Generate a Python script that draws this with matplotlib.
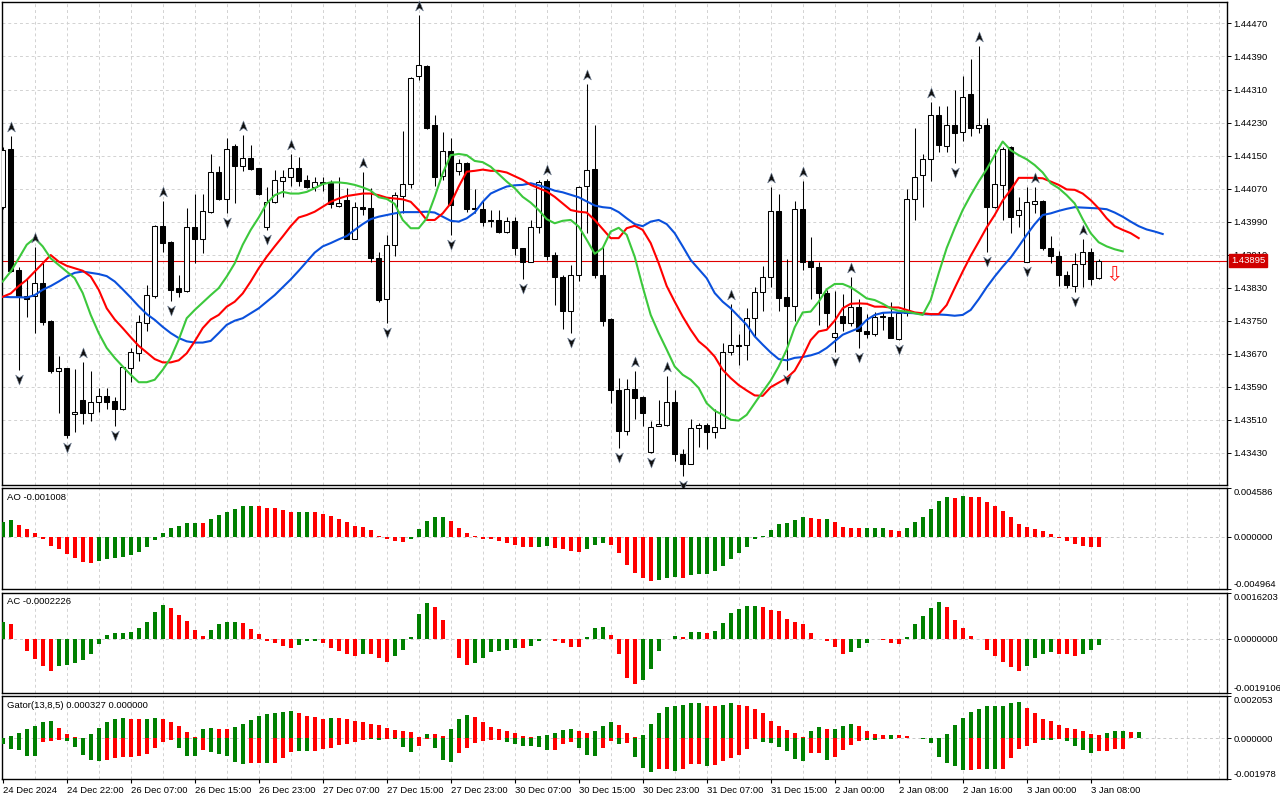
import numpy as np
import matplotlib
matplotlib.use("Agg")
import matplotlib.pyplot as plt
from matplotlib.path import Path
from matplotlib.transforms import offset_copy

# ---------- DATA (H1 candles, 24 Dec 2024 - 3 Jan 2025) ----------
time_labels = ['24 Dec 2024', '24 Dec 22:00', '26 Dec 07:00', '26 Dec 15:00', '26 Dec 23:00',
               '27 Dec 07:00', '27 Dec 15:00', '27 Dec 23:00', '30 Dec 07:00', '30 Dec 15:00',
               '30 Dec 23:00', '31 Dec 07:00', '31 Dec 15:00', '2 Jan 00:00', '2 Jan 08:00',
               '2 Jan 16:00', '3 Jan 00:00', '3 Jan 08:00']

opens = [1.44026, 1.44166, 1.43873, 1.43810, 1.43810, 1.43841, 1.43749, 1.43628, 1.43635, 1.43523,
         1.43558, 1.43526, 1.43554, 1.43568, 1.43556, 1.43535, 1.43636, 1.43671, 1.43745, 1.43811,
         1.43979, 1.43941, 1.43828, 1.43822, 1.43976, 1.43947, 1.44014, 1.44109, 1.44044, 1.44173,
         1.44125, 1.44143, 1.44119, 1.43976, 1.44038, 1.44089, 1.44097, 1.44121, 1.44091, 1.44073,
         1.44087, 1.44083, 1.44029, 1.44042, 1.43949, 1.44025, 1.44022, 1.43903, 1.43802, 1.43933,
         1.44052, 1.44081, 1.44342, 1.44367, 1.44224, 1.44101, 1.44161, 1.44112, 1.44133, 1.44022,
         1.44020, 1.43994, 1.43994, 1.43966, 1.43992, 1.43925, 1.43893, 1.43976, 1.44088, 1.43909,
         1.43857, 1.43774, 1.43861, 1.44076, 1.44117, 1.43861, 1.43753, 1.43582, 1.43484, 1.43584,
         1.43565, 1.43431, 1.43494, 1.43498, 1.43552, 1.43427, 1.43403, 1.43490, 1.43498, 1.43480,
         1.43490, 1.43675, 1.43690, 1.43690, 1.43756, 1.43819, 1.43855, 1.44016, 1.43808, 1.43786,
         1.44020, 1.43895, 1.43881, 1.43818, 1.43711, 1.43761, 1.43745, 1.43782, 1.43725, 1.43717,
         1.43761, 1.43760, 1.43705, 1.43768, 1.44044, 1.44103, 1.44141, 1.44248, 1.44174, 1.44224,
         1.44206, 1.44298, 1.44217, 1.44225, 1.44025, 1.44078, 1.44171, 1.44006, 1.43893, 1.44032,
         1.44040, 1.43925, 1.43907, 1.43861, 1.43834, 1.43887, 1.43917, 1.43853]

highs = [1.44170, 1.44197, 1.43881, 1.43853, 1.43929, 1.43889, 1.43752, 1.43665, 1.43636, 1.43632,
         1.43651, 1.43627, 1.43588, 1.43586, 1.43564, 1.43640, 1.43683, 1.43764, 1.43837, 1.43982,
         1.44041, 1.43943, 1.43860, 1.44022, 1.44057, 1.44057, 1.44154, 1.44125, 1.44192, 1.44178,
         1.44200, 1.44175, 1.44121, 1.44073, 1.44115, 1.44115, 1.44154, 1.44146, 1.44103, 1.44099,
         1.44099, 1.44091, 1.44099, 1.44071, 1.44038, 1.44111, 1.44071, 1.43917, 1.43958, 1.44062,
         1.44210, 1.44341, 1.44490, 1.44369, 1.44248, 1.44208, 1.44192, 1.44141, 1.44135, 1.44068,
         1.44042, 1.44017, 1.44018, 1.44000, 1.44002, 1.43927, 1.43995, 1.44091, 1.44093, 1.43917,
         1.43861, 1.43885, 1.44076, 1.44323, 1.44224, 1.43931, 1.43756, 1.43611, 1.43608, 1.43629,
         1.43567, 1.43506, 1.43558, 1.43615, 1.43582, 1.43439, 1.43511, 1.43503, 1.43502, 1.43535,
         1.43695, 1.43791, 1.43717, 1.43780, 1.43831, 1.43883, 1.44073, 1.44057, 1.43899, 1.44040,
         1.44089, 1.43952, 1.43891, 1.43824, 1.43823, 1.43815, 1.43857, 1.43802, 1.43766, 1.43772,
         1.43772, 1.43796, 1.43768, 1.44068, 1.44216, 1.44155, 1.44280, 1.44270, 1.44270, 1.44310,
         1.44342, 1.44383, 1.44415, 1.44240, 1.44167, 1.44171, 1.44173, 1.44049, 1.44073, 1.44075,
         1.44042, 1.43955, 1.43920, 1.43871, 1.43913, 1.43947, 1.43925, 1.43899]

lows = [1.44020, 1.43869, 1.43631, 1.43760, 1.43720, 1.43740, 1.43624, 1.43527, 1.43465, 1.43481,
        1.43500, 1.43508, 1.43530, 1.43535, 1.43494, 1.43534, 1.43602, 1.43652, 1.43726, 1.43806,
        1.43917, 1.43798, 1.43808, 1.43820, 1.43889, 1.43913, 1.44012, 1.44042, 1.44010, 1.44034,
        1.44113, 1.44115, 1.44054, 1.43970, 1.44036, 1.44050, 1.44076, 1.44076, 1.44071, 1.44065,
        1.44065, 1.44022, 1.44026, 1.43947, 1.43947, 1.44006, 1.43891, 1.43796, 1.43744, 1.43907,
        1.44010, 1.44071, 1.44334, 1.44214, 1.44076, 1.44091, 1.43958, 1.44103, 1.44014, 1.44010,
        1.43979, 1.43978, 1.43963, 1.43963, 1.43909, 1.43850, 1.43891, 1.43962, 1.43897, 1.43788,
        1.43729, 1.43721, 1.43847, 1.43962, 1.43853, 1.43737, 1.43550, 1.43441, 1.43473, 1.43511,
        1.43495, 1.43429, 1.43494, 1.43495, 1.43411, 1.43374, 1.43403, 1.43445, 1.43439, 1.43465,
        1.43490, 1.43667, 1.43643, 1.43655, 1.43710, 1.43774, 1.43831, 1.43774, 1.43631, 1.43750,
        1.43874, 1.43802, 1.43740, 1.43732, 1.43675, 1.43724, 1.43737, 1.43683, 1.43707, 1.43713,
        1.43728, 1.43707, 1.43703, 1.43762, 1.43995, 1.44026, 1.44089, 1.44159, 1.44159, 1.44133,
        1.44186, 1.44197, 1.44204, 1.43917, 1.44022, 1.43995, 1.43962, 1.43978, 1.43893, 1.44010,
        1.43921, 1.43889, 1.43834, 1.43828, 1.43820, 1.43832, 1.43837, 1.43851]

closes = [1.44163, 1.43871, 1.43808, 1.43802, 1.43841, 1.43748, 1.43627, 1.43635, 1.43473, 1.43528,
          1.43526, 1.43552, 1.43568, 1.43554, 1.43535, 1.43639, 1.43673, 1.43748, 1.43812, 1.43979,
          1.43939, 1.43824, 1.43820, 1.43976, 1.43947, 1.44016, 1.44109, 1.44044, 1.44167, 1.44125,
          1.44143, 1.44117, 1.44057, 1.44037, 1.44091, 1.44097, 1.44121, 1.44089, 1.44073, 1.44087,
          1.44084, 1.44033, 1.44036, 1.43949, 1.44025, 1.44021, 1.43903, 1.43800, 1.43933, 1.44054,
          1.44081, 1.44339, 1.44369, 1.44216, 1.44099, 1.44161, 1.44030, 1.44133, 1.44020, 1.44020,
          1.43990, 1.43992, 1.43966, 1.43992, 1.43925, 1.43891, 1.43976, 1.44087, 1.43907, 1.43855,
          1.43774, 1.43861, 1.44073, 1.44115, 1.43861, 1.43750, 1.43581, 1.43484, 1.43584, 1.43562,
          1.43527, 1.43492, 1.43499, 1.43552, 1.43427, 1.43403, 1.43490, 1.43498, 1.43480, 1.43492,
          1.43675, 1.43690, 1.43689, 1.43756, 1.43819, 1.43855, 1.44016, 1.43806, 1.43786, 1.44020,
          1.43893, 1.43881, 1.43816, 1.43768, 1.43720, 1.43745, 1.43782, 1.43724, 1.43717, 1.43760,
          1.43760, 1.43707, 1.43768, 1.44044, 1.44099, 1.44141, 1.44248, 1.44175, 1.44224, 1.44205,
          1.44291, 1.44217, 1.44225, 1.44025, 1.44081, 1.44167, 1.44002, 1.44017, 1.44037, 1.44040,
          1.43925, 1.43907, 1.43861, 1.43837, 1.43887, 1.43917, 1.43850, 1.43895]

# Alligator lines as drawn (already shifted: jaw +8, teeth +5, lips +3 bars)
jaw = [1.43808, 1.43807, 1.43807, 1.43806, 1.43812, 1.43825, 1.43834, 1.43845, 1.43857, 1.43866,
       1.43869, 1.43866, 1.43863, 1.43858, 1.43845, 1.43826, 1.43806, 1.43785, 1.43766, 1.43752,
       1.43735, 1.43720, 1.43708, 1.43700, 1.43697, 1.43697, 1.43701, 1.43720, 1.43740, 1.43750,
       1.43756, 1.43768, 1.43780, 1.43796, 1.43812, 1.43831, 1.43850, 1.43871, 1.43893, 1.43915,
       1.43930, 1.43938, 1.43947, 1.43955, 1.43970, 1.43984, 1.43996, 1.44002, 1.44006, 1.44010,
       1.44013, 1.44013, 1.44013, 1.44014, 1.44012, 1.44002, 1.43992, 1.43990, 1.43998, 1.44012,
       1.44038, 1.44058, 1.44067, 1.44075, 1.44078, 1.44079, 1.44083, 1.44078, 1.44072, 1.44065,
       1.44061, 1.44055, 1.44049, 1.44039, 1.44029, 1.44025, 1.44023, 1.44013, 1.43998, 1.43984,
       1.43979, 1.43990, 1.43994, 1.43984, 1.43962, 1.43930, 1.43897, 1.43875, 1.43853, 1.43817,
       1.43796, 1.43780, 1.43760, 1.43740, 1.43712, 1.43692, 1.43673, 1.43657, 1.43654, 1.43660,
       1.43662, 1.43666, 1.43672, 1.43684, 1.43700, 1.43716, 1.43724, 1.43732, 1.43752, 1.43764,
       1.43769, 1.43770, 1.43770, 1.43769, 1.43768, 1.43766, 1.43765, 1.43765, 1.43764, 1.43762,
       1.43764, 1.43776, 1.43802, 1.43831, 1.43857, 1.43881, 1.43903, 1.43930, 1.43958, 1.43984,
       1.44006, 1.44010, 1.44016, 1.44021, 1.44025, 1.44024, 1.44023, 1.44022, 1.44020, 1.44012,
       1.44002, 1.43990, 1.43979, 1.43971, 1.43966, 1.43960]

teeth = [1.43808, 1.43816, 1.43834, 1.43849, 1.43869, 1.43889, 1.43909, 1.43893, 1.43883, 1.43877,
         1.43871, 1.43857, 1.43825, 1.43780, 1.43753, 1.43732, 1.43710, 1.43689, 1.43673, 1.43657,
         1.43649, 1.43649, 1.43654, 1.43671, 1.43700, 1.43732, 1.43753, 1.43764, 1.43784, 1.43796,
         1.43816, 1.43845, 1.43877, 1.43905, 1.43930, 1.43954, 1.43979, 1.44000, 1.44006, 1.44014,
         1.44026, 1.44038, 1.44046, 1.44052, 1.44055, 1.44058, 1.44058, 1.44054, 1.44048, 1.44046,
         1.44044, 1.44038, 1.44018, 1.43994, 1.43994, 1.44010, 1.44034, 1.44075, 1.44111, 1.44113,
         1.44116, 1.44113, 1.44113, 1.44109, 1.44100, 1.44091, 1.44079, 1.44071, 1.44063, 1.44050,
         1.44034, 1.44018, 1.44014, 1.44012, 1.43994, 1.43972, 1.43950, 1.43950, 1.43974, 1.43980,
         1.43970, 1.43938, 1.43889, 1.43834, 1.43796, 1.43760, 1.43728, 1.43700, 1.43684, 1.43663,
         1.43631, 1.43611, 1.43594, 1.43581, 1.43569, 1.43568, 1.43589, 1.43600, 1.43611, 1.43629,
         1.43663, 1.43703, 1.43724, 1.43728, 1.43750, 1.43780, 1.43791, 1.43792, 1.43791, 1.43784,
         1.43784, 1.43782, 1.43782, 1.43776, 1.43770, 1.43768, 1.43766, 1.43766, 1.43788, 1.43829,
         1.43869, 1.43907, 1.43941, 1.43976, 1.44006, 1.44041, 1.44067, 1.44096, 1.44096, 1.44096,
         1.44095, 1.44087, 1.44079, 1.44068, 1.44067, 1.44058, 1.44042, 1.44022, 1.43998, 1.43979,
         1.43970, 1.43962, 1.43950]

lips = [1.43845, 1.43869, 1.43901, 1.43934, 1.43950, 1.43930, 1.43901, 1.43885, 1.43869, 1.43853,
        1.43817, 1.43764, 1.43720, 1.43684, 1.43660, 1.43639, 1.43619, 1.43601, 1.43601, 1.43607,
        1.43631, 1.43660, 1.43704, 1.43756, 1.43776, 1.43794, 1.43812, 1.43829, 1.43857, 1.43889,
        1.43934, 1.43970, 1.44000, 1.44034, 1.44054, 1.44062, 1.44058, 1.44058, 1.44062, 1.44071,
        1.44081, 1.44085, 1.44085, 1.44083, 1.44079, 1.44073, 1.44065, 1.44049, 1.44045, 1.44033,
        1.43994, 1.43974, 1.43974, 1.43998, 1.44050, 1.44107, 1.44151, 1.44154, 1.44151, 1.44137,
        1.44134, 1.44123, 1.44105, 1.44087, 1.44071, 1.44050, 1.44036, 1.44018, 1.43996, 1.43986,
        1.43992, 1.43994, 1.43978, 1.43946, 1.43912, 1.43926, 1.43966, 1.43975, 1.43958, 1.43905,
        1.43832, 1.43764, 1.43720, 1.43680, 1.43639, 1.43619, 1.43607, 1.43587, 1.43550, 1.43532,
        1.43522, 1.43510, 1.43508, 1.43522, 1.43550, 1.43578, 1.43605, 1.43639, 1.43680, 1.43734,
        1.43770, 1.43772, 1.43796, 1.43826, 1.43839, 1.43839, 1.43831, 1.43818, 1.43804, 1.43800,
        1.43791, 1.43780, 1.43774, 1.43772, 1.43768, 1.43764, 1.43800, 1.43865, 1.43926, 1.43974,
        1.44018, 1.44054, 1.44087, 1.44117, 1.44151, 1.44184, 1.44163, 1.44151, 1.44141, 1.44127,
        1.44109, 1.44083, 1.44071, 1.44054, 1.44034, 1.43996, 1.43962, 1.43940, 1.43930, 1.43923,
        1.43918]

fractal_up = [1, 4, 10, 20, 30, 36, 45, 52, 68, 73, 79, 83, 91, 96, 100, 106, 116, 122, 129, 135]
fractal_dn = [2, 8, 14, 21, 28, 33, 48, 56, 65, 71, 77, 81, 85, 98, 104, 107, 112, 119, 123, 128, 134]

price_ticks = [1.43430, 1.43510, 1.43590, 1.43670, 1.43750, 1.43830, 1.43910,
               1.43990, 1.44070, 1.44150, 1.44230, 1.44310, 1.44390, 1.44470]

ao = [0.00135, 0.00153, 0.00106, 0.00069, 0.00031, -0.00022, -0.00091, -0.00116, -0.00166, -0.00203,
      -0.00241, -0.00250, -0.00228, -0.00210, -0.00200, -0.00191, -0.00175, -0.00147, -0.00100, -0.00031,
      0.00031, 0.00078, 0.00097, 0.00125, 0.00126, 0.00124, 0.00163, 0.00200, 0.00232, 0.00257,
      0.00285, 0.00286, 0.00284, 0.00266, 0.00265, 0.00247, 0.00228, 0.00229, 0.00230, 0.00228,
      0.00210, 0.00191, 0.00163, 0.00135, 0.00097, 0.00088, 0.00059, 0.00003, -0.00028, -0.00047,
      -0.00048, -0.00019, 0.00069, 0.00144, 0.00182, 0.00183, 0.00144, 0.00078, 0.00031, 0.00003,
      -0.00019, -0.00028, -0.00047, -0.00066, -0.00078, -0.00097, -0.00103, -0.00097, -0.00091, -0.00110,
      -0.00116, -0.00135, -0.00144, -0.00116, -0.00078, -0.00059, -0.00078, -0.00153, -0.00266, -0.00341,
      -0.00388, -0.00419, -0.00407, -0.00388, -0.00387, -0.00389, -0.00360, -0.00354, -0.00353, -0.00322,
      -0.00275, -0.00210, -0.00153, -0.00097, -0.00028, 0.00006, 0.00063, 0.00116, 0.00125, 0.00153,
      0.00182, 0.00172, 0.00163, 0.00166, 0.00135, 0.00088, 0.00078, 0.00077, 0.00078, 0.00079,
      0.00080, 0.00059, 0.00050, 0.00078, 0.00135, 0.00182, 0.00257, 0.00332, 0.00369, 0.00368,
      0.00379, 0.00378, 0.00369, 0.00322, 0.00285, 0.00238, 0.00182, 0.00116, 0.00088, 0.00069,
      0.00050, 0.00022, -0.00013, -0.00041, -0.00069, -0.00088, -0.00097, -0.001008]
ao_colors = ("GGRRRRRRRR" "RRGGGGGGGG" "GGGGGRGGGG" "GGRRRRRGGR" "RRRRRRRRRR"
             "RGGGGGRRRR" "RRRRRRRGGR" "RRRGGGRRRR" "RRGGGRGGGG" "GGGGGGGGGG"
             "GRRGRRRRGG" "GRRGGGGGGR" "GRRRRRRRRR" "RRRRRRRR")

ac = [0.00060, 0.00053, -0.00001, -0.00041, -0.00071, -0.00095, -0.00112, -0.00095, -0.00091, -0.00084,
      -0.00074, -0.00053, -0.00018, 0.00014, 0.00021, 0.00022, 0.00025, 0.00039, 0.00060, 0.00095,
      0.00120, 0.00109, 0.00085, 0.00064, 0.00032, 0.00011, 0.00032, 0.00053, 0.00060, 0.00061,
      0.00056, 0.00035, 0.00018, -0.00006, -0.00013, -0.00024, -0.00032, -0.00020, -0.00009, -0.00009,
      -0.00013, -0.00031, -0.00041, -0.00052, -0.00059, -0.00052, -0.00052, -0.00069, -0.00080, -0.00062,
      -0.00038, 0.00005, 0.00088, 0.00127, 0.00113, 0.00067, -0.00001, -0.00066, -0.00091, -0.00084,
      -0.00069, -0.00048, -0.00041, -0.00038, -0.00031, -0.00031, -0.00024, -0.00006, -0.00002, -0.00006,
      -0.00013, -0.00027, -0.00027, 0.00007, 0.00039, 0.00042, 0.00014, -0.00055, -0.00137, -0.00161,
      -0.00144, -0.00105, -0.00041, -0.00002, 0.00011, 0.00007, 0.00025, 0.00025, 0.00021, 0.00028,
      0.00056, 0.00092, 0.00106, 0.00117, 0.00117, 0.00113, 0.00102, 0.00099, 0.00071, 0.00060,
      0.00053, 0.00021, -0.00001, -0.00006, -0.00027, -0.00052, -0.00045, -0.00031, -0.00013, -0.00002,
      -0.00003, -0.00016, -0.00017, 0.00008, 0.00053, 0.00081, 0.00109, 0.00131, 0.00113, 0.00067,
      0.00039, 0.00011, -0.00001, -0.00038, -0.00062, -0.00080, -0.00098, -0.00115, -0.00094, -0.00066,
      -0.00052, -0.00048, -0.00055, -0.00055, -0.00059, -0.00052, -0.00038, -0.0002226]
ac_colors = ("GRRRRRRGGG" "GGGGGGGGGG" "GRRRRRGGGG" "RRRRRRRGGG" "RRRRRGRRRG"
             "GGGGRRRRRG" "GGGGGRGGGR" "RRRGGGRRRR" "GGGGGRGGRG" "GGGGGRRRRR"
             "RRRRRRGGGR" "RRRGGGGGRR" "RRRRRRRRGG" "GGRRRGGG")

gator_up = [0.00003, 0.00011, 0.00026, 0.00045, 0.00060, 0.00079, 0.00084, 0.00050, 0.00019, 0.00005,
            0.00002, 0.00019, 0.00050, 0.00077, 0.00092, 0.00097, 0.00096, 0.00095, 0.00096, 0.00097,
            0.00092, 0.00077, 0.00058, 0.00031, 0.00005, 0.00045, 0.00048, 0.00043, 0.00043, 0.00053,
            0.00068, 0.00087, 0.00106, 0.00116, 0.00122, 0.00127, 0.00132, 0.00122, 0.00108, 0.00103,
            0.00093, 0.00098, 0.00098, 0.00093, 0.00084, 0.00079, 0.00069, 0.00064, 0.00050, 0.00040,
            0.00035, 0.00029, 0.00005, 0.00019, 0.00019, 0.00010, 0.00043, 0.00092, 0.00111, 0.00101,
            0.00077, 0.00053, 0.00043, 0.00034, 0.00024, 0.00010, 0.00005, 0.00010, 0.00014, 0.00024,
            0.00039, 0.00043, 0.00034, 0.00024, 0.00034, 0.00058, 0.00077, 0.00063, 0.00024, 0.00005,
            0.00014, 0.00068, 0.00121, 0.00150, 0.00159, 0.00160, 0.00169, 0.00170, 0.00159, 0.00155,
            0.00164, 0.00169, 0.00164, 0.00155, 0.00140, 0.00121, 0.00082, 0.00058, 0.00039, 0.00024,
            0.00005, 0.00034, 0.00053, 0.00043, 0.00044, 0.00058, 0.00068, 0.00058, 0.00034, 0.00019,
            0.00015, 0.00016, 0.00014, 0.00010, 0.00002, 0.00002, 0.0, 0.0, 0.00019, 0.00063,
            0.00097, 0.00126, 0.00140, 0.00155, 0.00156, 0.00159, 0.00169, 0.00174, 0.00145, 0.00121,
            0.00092, 0.00082, 0.00063, 0.00048, 0.00043, 0.00034, 0.00019, 0.00015, 0.00024, 0.00034,
            0.00034, 0.00032, 0.000327]
gator_up_colors = ("GGGGGGGRRR" "RGGGGGRRGG" "RRRRRGGRRG" "GGGGGGGRRR" "RGRRRRRRRR"
                   "RRRGRRGGGR" "RRRRRRRGGG" "GGRRGGGRRR" "GGGGGGGGRR" "GGRRRRRRRR"
                   "RGGRGGGRRR" "RGRRRGGGGG" "GGGGGGGGRR" "RRRRRRRRGG" "GRG")

gator_dn = [0.00029, 0.00052, 0.00058, 0.00085, 0.00086, 0.00016, 0.00011, 0.00006, 0.00013, 0.00042,
            0.00081, 0.00105, 0.00109, 0.00105, 0.00095, 0.00092, 0.00090, 0.00085, 0.00076, 0.00047,
            0.00018, 0.00008, 0.00047, 0.00085, 0.00086, 0.00056, 0.00066, 0.00076, 0.00085, 0.00113,
            0.00124, 0.00119, 0.00118, 0.00119, 0.00118, 0.00098, 0.00066, 0.00060, 0.00061, 0.00060,
            0.00052, 0.00045, 0.00035, 0.00029, 0.00016, 0.00008, 0.00003, 0.00006, 0.00002, 0.00003,
            0.00042, 0.00066, 0.00037, 0.00005, 0.00047, 0.00105, 0.00114, 0.00071, 0.00047, 0.00023,
            0.00013, 0.00008, 0.00007, 0.00018, 0.00027, 0.00037, 0.00038, 0.00042, 0.00056, 0.00055,
            0.00027, 0.00018, 0.00047, 0.00081, 0.00085, 0.00047, 0.00013, 0.00027, 0.00023, 0.00090,
            0.00143, 0.00163, 0.00148, 0.00147, 0.00158, 0.00148, 0.00124, 0.00123, 0.00134, 0.00129,
            0.00109, 0.00095, 0.00081, 0.00052, 0.00005, 0.00018, 0.00023, 0.00042, 0.00061, 0.00100,
            0.00109, 0.00071, 0.00070, 0.00105, 0.00090, 0.00056, 0.00032, 0.00013, 0.00008, 0.00009,
            0.00002, 0.00002, 0.00001, 0.0, 0.0, 0.00003, 0.00023, 0.00090, 0.00119, 0.00134,
            0.00153, 0.00152, 0.00148, 0.00149, 0.00150, 0.00148, 0.00095, 0.00052, 0.00037, 0.00023,
            0.00008, 0.00009, 0.00005, 0.00013, 0.00037, 0.00056, 0.00071, 0.00061, 0.00060, 0.00052,
            0.00051]
gator_dn_colors = ("GGGGGRRRGG" "GGGRRRRRRR" "RRGGGRGGGG" "GRRGRRRGGR" "RRRRRRGGRG"
                   "GGRRGGGRRR" "RRRGGGGGGR" "RRGGGRRGRG" "GGRRGRRRGR" "RRRRRGGGGG"
                   "GRRGRRRRGG" "RGRRRGGGGG" "GRRGGRRRRR" "GGRGGGGRRR" "R")

ao_range = (-0.004964, 0.004586)
ac_range = (-0.0019106, 0.0016203)
gator_range = (-0.001978, 0.002053)

# ---------- STYLE ----------
plt.rcParams['font.family'] = ['Liberation Sans', 'DejaVu Sans']
plt.rcParams['font.size'] = 6.8

GREEN = '#008000'
RED = '#ff0000'
GRID = '#d2d2d2'
DASH = (0, (3, 3))

W, H = 1280, 800
fig = plt.figure(figsize=(W / 100, H / 100), dpi=100)
fig.patch.set_facecolor('white')


def panel(top, bottom):
    return fig.add_axes([2 / W, 1 - bottom / H, 1225 / W, (bottom - top) / H])


ax = panel(2, 485)
ax_ao = panel(488, 589)
ax_ac = panel(593, 693)
ax_g = panel(696, 779)
all_axes = [ax, ax_ao, ax_ac, ax_g]

n = len(opens)
for a in all_axes:
    a.set_xlim(-0.09, 153.04)
    for s in a.spines.values():
        s.set_linewidth(1.0)
        s.set_color('black')
    a.tick_params(axis='x', length=0, labelbottom=False)
    a.yaxis.tick_right()
    a.tick_params(axis='y', length=3, width=0.7, pad=1.5, labelsize=6.8, colors='black')
    for gx in range(4, 153, 4):
        a.axvline(gx, color=GRID, lw=0.7, ls=DASH, zorder=0)

# ---------- PRICE PANEL ----------
o = np.array(opens)
h = np.array(highs)
l = np.array(lows)
c = np.array(closes)
x = np.arange(n)
bull = c >= o

ax.set_ylim(1.43352, 1.44522)
for p in price_ticks:
    ax.axhline(p, color=GRID, lw=0.7, ls=DASH, zorder=0)
ax.set_yticks(price_ticks)
ax.set_yticklabels([f'{p:.5f}' for p in price_ticks])

ax.vlines(x, l, h, color='black', lw=0.75, zorder=3)
ax.bar(x[bull], (c - o)[bull], bottom=o[bull], width=0.6, facecolor='white',
       edgecolor='black', linewidth=0.75, zorder=4)
ax.bar(x[~bull], (o - c)[~bull], bottom=c[~bull], width=0.6, facecolor='black',
       edgecolor='black', linewidth=0.75, zorder=4)

ax.plot(np.arange(len(jaw)), jaw, color='#0a50dc', lw=1.5, zorder=5)
ax.plot(np.arange(len(teeth)), teeth, color='#ff0000', lw=1.5, zorder=5)
ax.plot(np.arange(len(lips)), lips, color='#3cc83c', lw=1.5, zorder=5)

# bid line and its label
last = closes[-1]
ax.axhline(last, color='#e00000', lw=0.8, zorder=2)
ax.annotate(f'{last:.5f}', xy=(1, last), xycoords=('axes fraction', 'data'),
            xytext=(4, 0), textcoords='offset pixels', ha='left', va='center',
            color='white', fontsize=6.8, annotation_clip=False, zorder=10,
            bbox=dict(boxstyle='square,pad=0.2', fc='#d00000', ec='#d00000'))

# sell signal arrow
ax.annotate('\u21e9', xy=(n - 1, last), xytext=(15, -14), textcoords='offset pixels',
            ha='center', va='center', color='#ff2020', fontsize=15,
            family='DejaVu Sans', zorder=6)

# fractals
dart = Path([(0, 1), (0.7, -0.8), (0, -0.3), (-0.7, -0.8), (0, 1)],
            [Path.MOVETO, Path.LINETO, Path.LINETO, Path.LINETO, Path.CLOSEPOLY])
dart_dn = Path([(0, -1), (0.7, 0.8), (0, 0.3), (-0.7, 0.8), (0, -1)],
               [Path.MOVETO, Path.LINETO, Path.LINETO, Path.LINETO, Path.CLOSEPOLY])
up_tr = offset_copy(ax.transData, fig=fig, x=0, y=9, units='dots')
dn_tr = offset_copy(ax.transData, fig=fig, x=0, y=-9, units='dots')
ax.plot(fractal_up, h[fractal_up], ls='none', marker=dart, ms=8, mfc='#111111',
        mec='#7a8aa0', mew=0.4, transform=up_tr, zorder=6, clip_on=False)
ax.plot(fractal_dn, l[fractal_dn], ls='none', marker=dart_dn, ms=8, mfc='#111111',
        mec='#7a8aa0', mew=0.4, transform=dn_tr, zorder=6, clip_on=False)


# ---------- INDICATOR PANELS ----------
def hist(a, vals, cols):
    xs = np.arange(len(vals))
    a.bar(xs, vals, width=0.5, color=[GREEN if ch == 'G' else RED for ch in cols],
          linewidth=0, zorder=3)


def setup_panel(a, rng, fmt, title):
    a.set_ylim(*rng)
    a.axhline(0, color='#c8c8c8', lw=0.7, ls=DASH, zorder=1)
    ticks = [rng[0], 0.0, rng[1]]
    a.set_yticks(ticks)
    a.set_yticklabels([fmt.format(t) for t in ticks])
    labs = a.get_yticklabels()
    labs[0].set_va('bottom')
    labs[2].set_va('top')
    a.text(0, 1, title, transform=offset_copy(a.transAxes, fig=fig, x=5, y=-9, units='dots'),
           ha='left', va='center', fontsize=6.8)


hist(ax_ao, ao, ao_colors)
setup_panel(ax_ao, ao_range, '{:.6f}', f'AO {ao[-1]:.6f}')

hist(ax_ac, ac, ac_colors)
setup_panel(ax_ac, ac_range, '{:.7f}', f'AC {ac[-1]:.7f}')

hist(ax_g, gator_up, gator_up_colors)
hist(ax_g, [-v for v in gator_dn], gator_dn_colors)
setup_panel(ax_g, gator_range, '{:.6f}', f'Gator(13,8,5) {gator_up[-1]:.6f} 0.000000')

# time axis
ax_g.set_xticks(range(0, n, 8))
ax_g.set_xticklabels(time_labels)
ax_g.tick_params(axis='x', length=3, width=0.8, pad=2, labelbottom=True, labelsize=6.8)
for lab in ax_g.get_xticklabels():
    lab.set_ha('left')

fig.savefig('out.png', dpi=100, facecolor='white')
